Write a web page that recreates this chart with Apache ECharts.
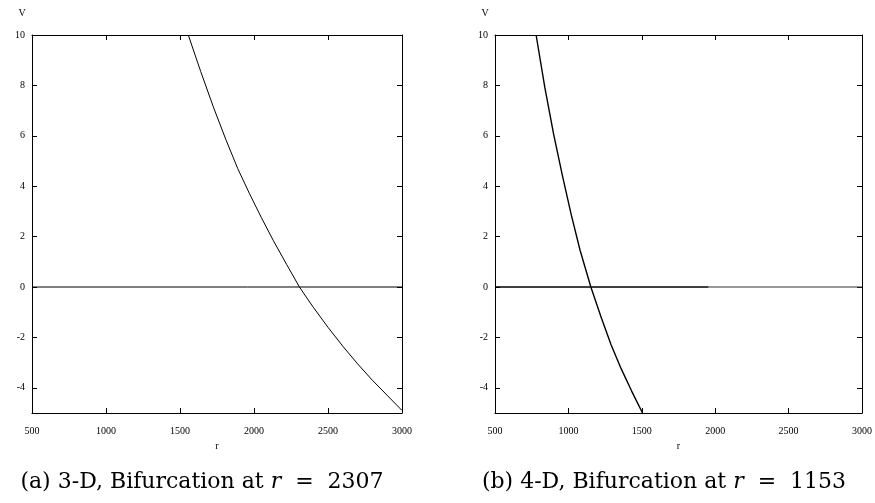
<!DOCTYPE html>
<html>
<head>
<meta charset="utf-8">
<script src="https://cdn.jsdelivr.net/npm/echarts@6/dist/echarts.min.js"></script>
<style>html,body{margin:0;padding:0;background:#fff}#c{width:875px;height:503px}</style>
</head>
<body>
<div id="c"></div>
<script>
// ---- data ----
var xTicks = [500, 1000, 1500, 2000, 2500, 3000];
var yTicks = [-4, -2, 0, 2, 4, 6, 8, 10];

// (a) 3-D branch
var rA = [1556, 1640, 1725, 1810, 1890, 1970, 2050, 2130, 2220, 2307, 2400, 2500, 2600, 2700, 2800, 2900, 3000];
var vA = [10, 8.55, 7.15, 5.85, 4.7, 3.7, 2.75, 1.85, 0.9, 0, -0.8, -1.6, -2.35, -3.05, -3.7, -4.3, -4.9];
var rAzero = [500, 1955, 3000];
var vAzero = [0, 0, 0];

// (b) 4-D branch
var rB = [780, 840, 900, 960, 1020, 1080, 1153, 1220, 1290, 1360, 1430, 1505];
var vB = [10, 7.9, 6.05, 4.4, 2.85, 1.45, 0, -1.15, -2.28, -3.25, -4.12, -5];
var rBzero1 = [500, 1955];
var vBzero1 = [0, 0];
var rBzero2 = [1955, 3000];
var vBzero2 = [0, 0];

var captions = [
  {tag: '(a) 3-D, Bifurcation at ', val: '2307'},
  {tag: '(b) 4-D, Bifurcation at ', val: '1153'}
];

function pairs(xs, ys) { return xs.map(function (x, i) { return [x, ys[i]]; }); }

var tickFont = {fontFamily: 'Liberation Serif', fontSize: 10, color: '#000'};
var gridLefts = [32, 495];

var grids = [], xAxes = [], yAxes = [];
gridLefts.forEach(function (l, i) {
  grids.push({left: l, top: 35, width: 370, height: 378, containLabel: false});
  var common = {
    gridIndex: i, type: 'value', min: 500, max: 3000, interval: 500,
    axisLine: {onZero: false, lineStyle: {color: '#000', width: 1}},
    axisTick: {inside: true, length: 5, lineStyle: {color: '#000'}},
    splitLine: {show: false}
  };
  xAxes.push(Object.assign({}, common, {
    position: 'bottom',
    axisLabel: Object.assign({margin: 13, formatter: function (v) { return String(v); }}, tickFont),
    name: 'r', nameLocation: 'middle', nameGap: 27,
    nameTextStyle: tickFont
  }));
  xAxes.push(Object.assign({}, common, {position: 'top', axisLabel: {show: false}}));
  var ycommon = {
    gridIndex: i, type: 'value', min: -5, max: 10,
    axisLine: {onZero: false, lineStyle: {color: '#000', width: 1}},
    axisTick: {inside: true, length: 5, customValues: yTicks, lineStyle: {color: '#000'}},
    splitLine: {show: false}
  };
  yAxes.push(Object.assign({}, ycommon, {
    position: 'left',
    axisLabel: Object.assign({margin: 7, customValues: yTicks}, tickFont),
    name: 'V', nameLocation: 'end', nameGap: 17,
    nameTextStyle: Object.assign({padding: [0, 20, 0, 0]}, tickFont)
  }));
  yAxes.push(Object.assign({}, ycommon, {position: 'right', axisLabel: {show: false}}));
});

function line(data, xi, yi, color, w) {
  return {type: 'line', xAxisIndex: xi, yAxisIndex: yi, data: data, showSymbol: false,
    symbol: 'none', smooth: false, clip: true, animation: false,
    lineStyle: {color: color, width: w}};
}

var series = [
  line(pairs(rAzero, vAzero), 0, 0, '#000', 1),
  line(pairs(rA, vA), 0, 0, '#000', 1),
  line(pairs(rBzero1, vBzero1), 2, 2, '#000', 1.4),
  line(pairs(rBzero2, vBzero2), 2, 2, '#333', 1),
  line(pairs(rB, vB), 2, 2, '#000', 1.4)
];

var captionCenters = [197, 659];
var titles = captions.map(function (c, i) {
  return {
    text: '{n|' + c.tag + '}{i|r}{n|  =  ' + c.val + '}',
    left: captionCenters[i], top: 466, textAlign: 'center',
    textStyle: {
      rich: {
        n: {fontFamily: 'DejaVu Serif', fontWeight: 'normal', fontSize: 22, color: '#000'},
        i: {fontFamily: 'DejaVu Serif', fontWeight: 'normal', fontStyle: 'italic', fontSize: 22, color: '#000'}
      }
    }
  };
});

var chart = echarts.init(document.getElementById('c'), null, {renderer: 'canvas'});
chart.setOption({
  backgroundColor: '#fff',
  animation: false,
  title: titles,
  grid: grids,
  xAxis: xAxes,
  yAxis: yAxes,
  series: series
});
</script>
</body>
</html>
